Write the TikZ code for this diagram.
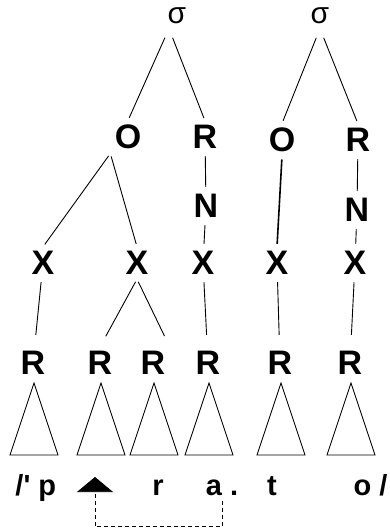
\documentclass[tikz,border=0pt]{standalone}
\usepackage{fontspec}
\setmainfont{Liberation Sans}
\usetikzlibrary{arrows.meta, calc}

\begin{document}
\begin{tikzpicture}[x=1pt, y=-1pt, line width=0.9pt,
    syl/.style={font=\fontsize{30}{32}\selectfont, inner sep=4pt},
    cons/.style={font=\fontsize{34}{36}\selectfont\bfseries, inner sep=4pt},
    word/.style={font=\fontsize{29}{31}\selectfont\bfseries, anchor=base, inner sep=5pt},
    branch/.style={shorten <=3pt, shorten >=3pt},
    cue/.style={dash pattern=on 4pt off 3pt, line width=0.7pt}]
  \useasboundingbox (0,0) rectangle (389,531);

  % syllables
  \node[syl] (sigA) at (177,16) {σ};
  \node[syl] (sigB) at (320,16) {σ};

  % onsets and rhymes
  \node[cons] (onsA) at (128,137) {O};
  \node[cons] (rhyA) at (205,137) {R};
  \node[cons] (onsB) at (282,140) {O};
  \node[cons] (rhyB) at (358,140) {R};
  \node[cons] (nucA) at (206,206) {N};
  \node[cons] (nucB) at (357,210) {N};

  % skeleton
  \node[cons] (xa) at (43,263) {X};
  \node[cons] (xb) at (137,263) {X};
  \node[cons] (xc) at (203,263) {X};
  \node[cons] (xd) at (277,263) {X};
  \node[cons] (xe) at (355,263) {X};

  % roots
  \node[cons] (ra) at (33,363) {R};
  \node[cons] (rb) at (100,363) {R};
  \node[cons] (rc) at (153,363) {R};
  \node[cons] (rd) at (208,363) {R};
  \node[cons] (re) at (280,363) {R};
  \node[cons] (rf) at (350,363) {R};

  \draw[branch, shorten <=10pt] ([xshift=-8pt]sigA.south) -- (onsA.north);
  \draw[branch, shorten <=10pt] ([xshift=-8pt]sigA.south) -- (rhyA.north);
  \draw[branch, shorten <=10pt] (sigB.south) -- (onsB.north);
  \draw[branch, shorten <=10pt] (sigB.south) -- (rhyB.north);

  \draw[branch] (onsA.south west) -- (xa.north);
  \draw[branch] (onsA.south west) -- (xb.north);
  \draw[branch] (rhyA) -- (nucA);
  \draw[branch] (nucA) -- (xc);
  \draw[branch, line width=1.6pt] (onsB.south) -- (xd.north);
  \draw[branch] (rhyB) -- (nucB);
  \draw[branch] (nucB) -- (xe);

  \draw[branch, shorten >=12pt] (xa) -- (ra);
  \draw[branch, shorten >=12pt] (xb.south) -- (rb.north);
  \draw[branch, shorten >=12pt] (xb.south) -- (rc.north east);
  \draw[branch, shorten >=12pt] (xc) -- (rd);
  \draw[branch, shorten >=12pt] (xd) -- (re);
  \draw[branch, shorten >=12pt] (xe) -- (rf);

  % melody triangles
  \foreach \r in {ra,rb,rc,rd,re,rf}
    \draw ($(\r)+(1,20)$) -- ++(-24,72) -- ++(48,0) -- cycle;

  % segments
  \node[word, anchor=base west] (segp) at (10,495) {/\textquotesingle{} p};
  \node[word] (segr) at (158,495) {r};
  \node[word] (sega) at (222,495) {a .};
  \node[word] (segt) at (272,495) {t};
  \node[word, anchor=base east, inner xsep=1pt] (sego) at (389,495) {o /};
  \coordinate (gap) at (95,477);

  \draw[cue, -{Triangle[width=36pt, length=15pt]}]
    (sega.south) -- ++(0,26) -| (gap);
\end{tikzpicture}
\end{document}
